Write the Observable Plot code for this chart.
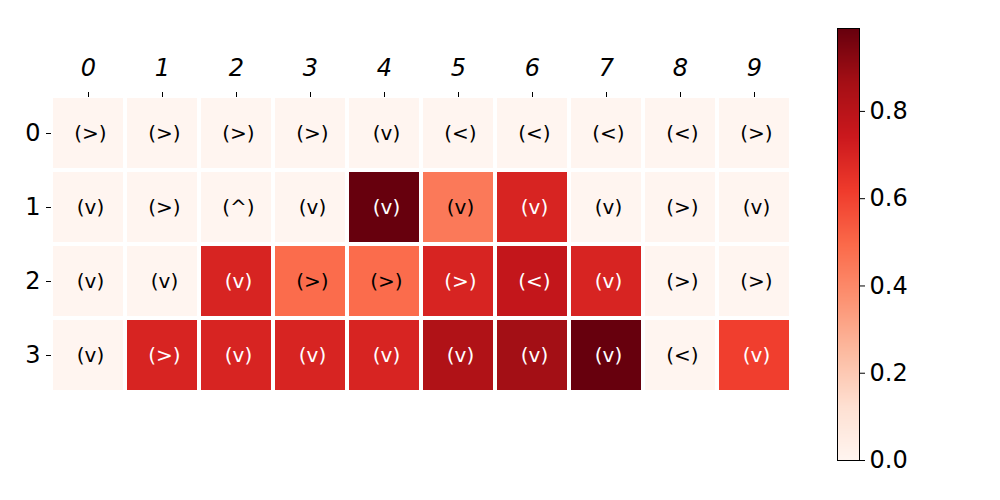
<!DOCTYPE html>
<html><head><meta charset="utf-8">
<script src="https://cdn.jsdelivr.net/npm/d3@7"></script>
<script src="https://cdn.jsdelivr.net/npm/@observablehq/plot@0.6"></script>
<style>
body{margin:0;background:#fff;}
#wrap{position:relative;width:1000px;height:500px;}
#wrap svg{position:absolute;left:0;top:0;}
#main g[aria-label="x-axis tick label"] text{font-style:italic;}
</style>
</head><body><div id="wrap"></div>
<script>
const columns = [0,1,2,3,4,5,6,7,8,9];
const rows = [0,1,2,3];
const row0Values = [0,0,0,0,0,0,0,0,0,0];
const row1Values = [0,0,0,0,0.99,0.45,0.7,0,0,0];
const row2Values = [0,0,0.7,0.49,0.49,0.7,0.77,0.7,0,0];
const row3Values = [0,0.7,0.7,0.7,0.7,0.83,0.87,0.99,0,0.61];
const row0Labels = ["(>)","(>)","(>)","(>)","(v)","(<)","(<)","(<)","(<)","(>)"];
const row1Labels = ["(v)","(>)","(^)","(v)","(v)","(v)","(v)","(v)","(>)","(v)"];
const row2Labels = ["(v)","(v)","(v)","(>)","(>)","(>)","(<)","(v)","(>)","(>)"];
const row3Labels = ["(v)","(>)","(v)","(v)","(v)","(v)","(v)","(v)","(<)","(v)"];
const colorbarTicks = [0,0.2,0.4,0.6,0.8];
const vmax = 0.99;
const redsColors = ["#fff5f0","#fee0d2","#fcbba1","#fc9272","#fb6a4a","#ef3b2c","#cb181d","#a50f15","#67000d"];

const allValues = [row0Values,row1Values,row2Values,row3Values];
const allLabels = [row0Labels,row1Labels,row2Labels,row3Labels];
const data = [];
rows.forEach((r,i)=>columns.forEach((c,j)=>data.push({row:r,col:c,value:allValues[i][j],label:allLabels[i][j]})));

const colorScale = {type:"linear", domain: redsColors.map((_,i)=>i/(redsColors.length-1)*vmax), range: redsColors, clamp:true};
const font = "DejaVu Sans, sans-serif";

const main = Plot.plot({
  width:1000, height:500,
  marginLeft:51, marginRight:209, marginTop:96, marginBottom:108,
  style:{fontFamily:font, background:"transparent"},
  x:{domain:columns, padding:0, label:null},
  y:{domain:rows, padding:0, label:null},
  color:colorScale,
  marks:[
    Plot.cell(data,{x:"col", y:"row", fill:"value", inset:2}),
    Plot.text(data,{x:"col", y:"row", dx:2, text:"label", fontSize:20, fill:d=>d.value>0.55?"white":"black"}),
    Plot.axisX({anchor:"top", tickSize:5, tickPadding:16, fontSize:24, label:null}),
    Plot.axisY({anchor:"left", tickSize:5, tickPadding:6, fontSize:24, label:null})
  ]
});
main.id = "main";

const bar = Plot.plot({
  width:1000, height:500,
  marginLeft:837, marginRight:141, marginTop:28, marginBottom:40,
  style:{fontFamily:font, background:"transparent"},
  x:{domain:[0,1], axis:null},
  y:{domain:[0,vmax], label:null},
  color:colorScale,
  marks:[
    Plot.raster({fill:(x,y)=>y, x1:0, x2:1, y1:0, y2:vmax, pixelSize:1}),
    Plot.frame({stroke:"black", strokeWidth:1}),
    Plot.axisY({anchor:"right", ticks:colorbarTicks, tickFormat:".1f", tickSize:5, tickPadding:5, fontSize:24, label:null})
  ]
});
const wrap = document.getElementById("wrap");
wrap.appendChild(main);
wrap.appendChild(bar);
</script>
</body></html>
